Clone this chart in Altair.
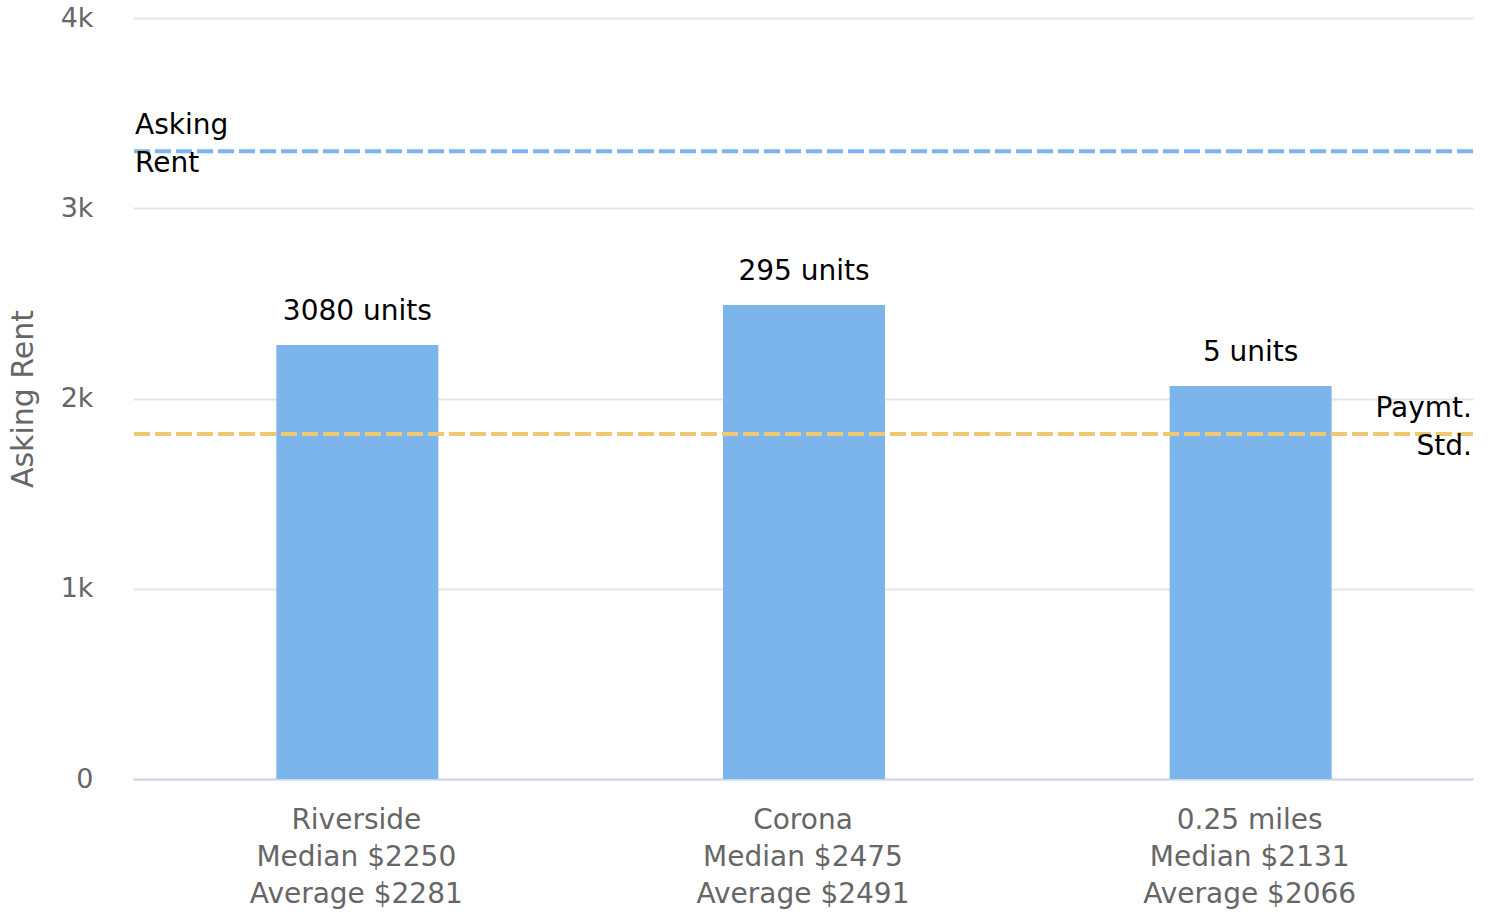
import altair as alt
import pandas as pd

regions = ["Riverside", "Corona", "0.25 miles"]
medians = [2250, 2475, 2131]
averages = [2281, 2491, 2066]
units = [3080, 295, 5]

asking_rent = 3300
paymt_std = 1813

FONT = "DejaVu Sans"

labels = [f"{r}\nMedian ${m}\nAverage ${a}" for r, m, a in zip(regions, medians, averages)]
bars = pd.DataFrame({
    "label": labels,
    "average": averages,
    "units": [f"{u} units" for u in units],
})

lines = pd.DataFrame({
    "name": ["Asking\nRent", "Paymt.\nStd."],
    "value": [asking_rent, paymt_std],
})

x_enc = alt.X("label:N", sort=labels, title=None,
              axis=alt.Axis(labelExpr="split(datum.label, '\\n')", labelAngle=0,
                            labelFont=FONT, labelFontSize=28, labelColor="#666666",
                            labelLineHeight=37, labelPadding=27, ticks=False, labelLimit=0,
                            domainColor="#ccd6eb", domainWidth=2, labelBaseline="top"))
y_scale = alt.Scale(domain=[0, 4000], nice=False)
y_enc = alt.Y("average:Q", scale=y_scale, title="Asking Rent",
              axis=alt.Axis(values=[0, 1000, 2000, 3000, 4000],
                            labelExpr="datum.value == 0 ? '0' : (datum.value/1000) + 'k'",
                            labelFont=FONT, labelFontSize=27, labelColor="#666666",
                            labelPadding=40, ticks=False, domain=False,
                            gridColor="#e6e6e6", gridWidth=2,
                            titleFont=FONT, titleFontSize=30, titleColor="#666666",
                            titleFontWeight="normal", titlePadding=22))

bar = alt.Chart(bars).mark_bar(size=162, color="#7cb5ec", xOffset=1).encode(x=x_enc, y=y_enc)
bar_text = alt.Chart(bars).mark_text(baseline="bottom", dy=-19, dx=1, font=FONT, fontSize=28,
                                     color="#000000").encode(
    x=alt.X("label:N", sort=labels), y=alt.Y("average:Q", scale=y_scale), text="units:N")

rule_colors = alt.Scale(domain=["Asking\nRent", "Paymt.\nStd."], range=["#7cb5ec", "#f0c870"])
rules = alt.Chart(lines).mark_rule(strokeDash=[16, 5], strokeWidth=4).encode(
    y=alt.Y("value:Q", scale=y_scale),
    color=alt.Color("name:N", scale=rule_colors, legend=None))

ask_text = alt.Chart(lines[lines["name"] == "Asking\nRent"]).mark_text(
    align="left", baseline="middle", lineBreak="\n", lineHeight=38, font=FONT, fontSize=28,
    dy=-25, color="#000000").encode(x=alt.value(2), y=alt.Y("value:Q", scale=y_scale), text="name:N")
pay_text = alt.Chart(lines[lines["name"] == "Paymt.\nStd."]).mark_text(
    align="right", baseline="middle", lineBreak="\n", lineHeight=38, font=FONT, fontSize=28,
    dy=-25, color="#000000").encode(x=alt.value(1339), y=alt.Y("value:Q", scale=y_scale), text="name:N")

chart = alt.layer(bar, rules, bar_text, ask_text, pay_text).properties(
    width=1340, height=761,
    background="white",
    autosize=alt.AutoSizeParams(type="none"),
    padding={"left": 133, "top": 18, "right": 15, "bottom": 135},
).configure_view(strokeWidth=0, stroke=None)

chart.save("out.html", embed_options={"renderer": "svg", "actions": False})
